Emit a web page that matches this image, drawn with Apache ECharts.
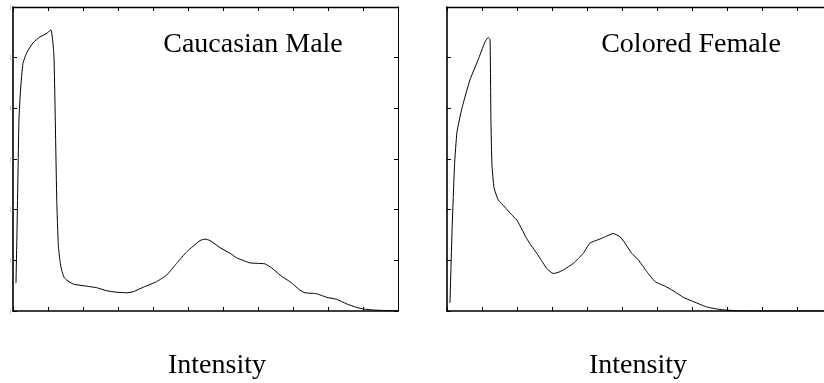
<!DOCTYPE html>
<html>
<head>
<meta charset="utf-8">
<script src="https://cdn.jsdelivr.net/npm/echarts@6/dist/echarts.min.js"></script>
<style>
  html, body { margin: 0; padding: 0; background: #fff; }
  #chart { width: 824px; height: 383px; }
</style>
</head>
<body>
<div id="chart"></div>
<script>
// intensity histograms, x in grey level units (0..220), y in counts (0..600)
const maleX = [1.7, 2.3, 3.4, 4.3, 5.7, 8.0, 11.4, 15.4, 18.9, 21.7, 23.4, 25.0, 25.9, 26.9, 27.8, 29.1, 30.7, 34.5,
  42.1, 47.8, 53.5, 59.3, 65.0, 68.7, 74.5, 82.1, 87.8, 93.5, 99.3, 106.9, 109.7, 112.6, 118.3, 124.0, 127.8,
  135.4, 144.0, 147.8, 152.6, 159.3, 164.0, 166.9, 173.5, 179.3, 185.0, 190.7, 196.4, 200.2, 205.7, 212.6, 220];
const maleY = [55, 160, 377, 436, 489, 511, 529, 541, 547, 555, 503, 219, 130, 97, 81, 67, 61, 53,
  49, 46, 40, 37, 36, 38, 47, 58, 71, 94, 117, 139, 142, 139, 125, 114, 105,
  95, 93, 85, 71, 55, 41, 36, 34, 27, 23, 14, 7, 4, 2, 1, 0.5];

const femaleX = [1.7, 2.9, 4.3, 5.7, 8.6, 13.1, 17.7, 21.7, 23.6, 24.6, 25.1, 25.7, 26.9, 29.3, 33.1, 36.6, 39.8,
  42.7, 45.5, 48.4, 51.3, 54.1, 57.0, 60.7, 63.4, 66.5, 72.2, 74.9, 77.9, 81.7, 87.4, 91.3, 95.0, 99.0, 101.7,
  105.5, 109.3, 114.1, 118.9, 124.6, 129.3, 135.0, 139.8, 148.4, 156.0, 163.4, 173.1, 220];
const femaleY = [16, 160, 288, 353, 401, 456, 495, 531, 540, 535, 377, 288, 243, 219, 205, 191, 180,
  162, 143, 128, 114, 99, 84, 74, 76, 81, 94, 103, 114, 134, 142, 148, 153, 146, 134,
  114, 101, 78, 58, 49, 40, 27, 20, 8, 3, 1, 0, 0];

const titles = ['Caucasian Male', 'Colored Female'];
const xLabel = 'Intensity';

const chart = echarts.init(document.getElementById('chart'), null, { renderer: 'canvas' });
const font = '"Liberation Serif", "DejaVu Serif", serif';

function pairs(xs, ys) {
  return xs.map((x, i) => [x, ys[i]]);
}

const tick = { show: true, inside: true, length: 4, lineStyle: { color: '#000', width: 1 } };

function xAxes(grid) {
  const base = {
    type: 'value',
    gridIndex: grid,
    min: 0,
    max: 220,
    interval: 20,
    splitLine: { show: false },
    axisLabel: { show: false },
    axisTick: tick
  };
  return [
    Object.assign({}, base, { position: 'bottom', axisLine: { show: true, onZero: false, lineStyle: { color: '#000', width: 1.6 } } }),
    Object.assign({}, base, { position: 'top', axisLine: { show: true, onZero: false, lineStyle: { color: '#000', width: 1.4 } } })
  ];
}

function yAxes(grid, outerMarks) {
  const base = {
    type: 'value',
    gridIndex: grid,
    min: 0,
    max: 600,
    interval: 100,
    splitLine: { show: false },
    axisTick: tick
  };
  return [
    Object.assign({}, base, {
      position: 'left',
      axisLine: { show: true, onZero: false, lineStyle: { color: '#000', width: 1.6 } },
      axisLabel: {
        show: outerMarks,
        formatter: () => '|',
        fontSize: 6,
        color: '#999',
        margin: 2
      }
    }),
    Object.assign({}, base, {
      position: 'right',
      axisLine: { show: true, onZero: false, lineStyle: { color: '#000', width: 1 } },
      axisLabel: { show: false }
    })
  ];
}

const option = {
  animation: false,
  backgroundColor: '#fff',
  grid: [
    { left: 13, top: 7, width: 385, height: 304, outerBoundsMode: 'none' },
    { left: 447, top: 7, width: 385, height: 304, outerBoundsMode: 'none' }
  ],
  xAxis: [...xAxes(0), ...xAxes(1)],
  yAxis: [...yAxes(0, true), ...yAxes(1, false)],
  series: [
    {
      type: 'line',
      xAxisIndex: 0,
      yAxisIndex: 0,
      data: pairs(maleX, maleY),
      showSymbol: false,
      smooth: 0.15,
      lineStyle: { color: '#000', width: 1 }
    },
    {
      type: 'line',
      xAxisIndex: 2,
      yAxisIndex: 2,
      data: pairs(femaleX, femaleY),
      showSymbol: false,
      smooth: 0.15,
      lineStyle: { color: '#000', width: 1 }
    }
  ],
  graphic: [
    { type: 'text', x: 253, y: 45, style: { text: titles[0], font: '28px ' + font, fill: '#000', textAlign: 'center', textVerticalAlign: 'middle' } },
    { type: 'text', x: 691, y: 45, style: { text: titles[1], font: '28px ' + font, fill: '#000', textAlign: 'center', textVerticalAlign: 'middle' } },
    { type: 'text', x: 217, y: 366, style: { text: xLabel, font: '28px ' + font, fill: '#000', textAlign: 'center', textVerticalAlign: 'middle' } },
    { type: 'text', x: 638, y: 366, style: { text: xLabel, font: '28px ' + font, fill: '#000', textAlign: 'center', textVerticalAlign: 'middle' } }
  ]
};

chart.setOption(option);
</script>
</body>
</html>
